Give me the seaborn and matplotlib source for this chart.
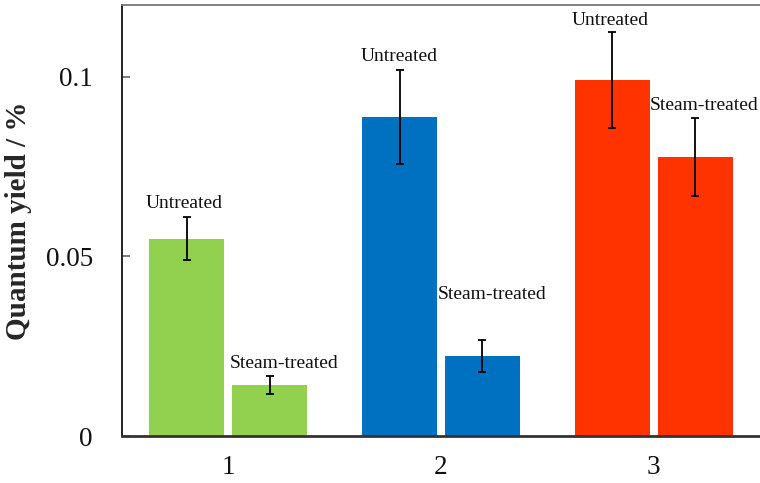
import matplotlib
matplotlib.use("Agg")
import matplotlib.pyplot as plt
import seaborn as sns
import pandas as pd

# Quantum yield data for three samples, untreated vs steam-treated
samples = ["1", "2", "3"]
treatments = ["Untreated", "Steam-treated"]
untreated = [0.0549, 0.0889, 0.0992]
untreated_err = [0.0060, 0.0131, 0.0134]
steam = [0.0142, 0.0223, 0.0777]
steam_err = [0.0025, 0.0045, 0.0109]
sample_colors = ["#92D050", "#0070C0", "#FF3300"]

# Where each bar's caption sits (data coordinates, text centre)
untreated_label_x = [-0.209, 0.805, 1.796]
untreated_label_y = [0.0646, 0.1056, 0.1156]
steam_label_x = [0.261, 1.242, 2.237]
steam_label_y = [0.0203, 0.0393, 0.0919]

df = pd.DataFrame({
    "sample": samples * 2,
    "treatment": [treatments[0]] * 3 + [treatments[1]] * 3,
    "value": untreated + steam,
})

sns.set_theme(style="white")
plt.rcParams["font.family"] = ["Liberation Serif", "DejaVu Serif"]

fig = plt.figure(figsize=(7.6, 4.83), dpi=100)
ax = fig.add_axes([0.1605, 0.0973, 0.8395, 0.8923])

sns.barplot(data=df, x="sample", y="value", hue="treatment", order=samples,
            hue_order=treatments, width=0.779, gap=0.096, errorbar=None,
            legend=False, ax=ax)

errs = [untreated_err, steam_err]
vals = [untreated, steam]
label_pos = [(untreated_label_x, untreated_label_y), (steam_label_x, steam_label_y)]
bar_groups = list(ax.containers)
for ci, container in enumerate(bar_groups):
    for bi, bar in enumerate(container.patches):
        bar.set_facecolor(sample_colors[bi])
        bar.set_edgecolor("none")
        cx = bar.get_x() + bar.get_width() / 2
        ax.errorbar(cx, vals[ci][bi], yerr=errs[ci][bi], fmt="none",
                    ecolor="black", elinewidth=1.3, capsize=3, capthick=1.3)
        lx, ly = label_pos[ci]
        ax.text(lx[bi], ly[bi], treatments[ci], ha="center", va="center",
                fontsize=14, color="#111111")

ax.set_xlim(-0.5, 2.5)
ax.set_ylim(0, 0.12)
ax.set_yticks([0, 0.05, 0.1])
ax.set_yticklabels(["0", "0.05", "0.1"])
ax.set_xlabel("")
ax.set_ylabel("Quantum yield / %", fontsize=21, fontweight="bold", labelpad=10)

ax.tick_params(axis="y", direction="in", length=6, width=1.2, color="#666666",
               pad=21, labelsize=19.5, left=True)
ax.tick_params(axis="x", length=0, pad=14, labelsize=19.5)
for lbl in ax.get_xticklabels() + ax.get_yticklabels():
    lbl.set_color("#111111")

ax.spines["right"].set_visible(False)
ax.spines["top"].set_color("#777777")
ax.spines["top"].set_linewidth(1.3)
ax.spines["left"].set_color("#111111")
ax.spines["left"].set_linewidth(1.3)
ax.spines["bottom"].set_color("#333333")
ax.spines["bottom"].set_linewidth(2)

fig.savefig("out.png", dpi=100)
